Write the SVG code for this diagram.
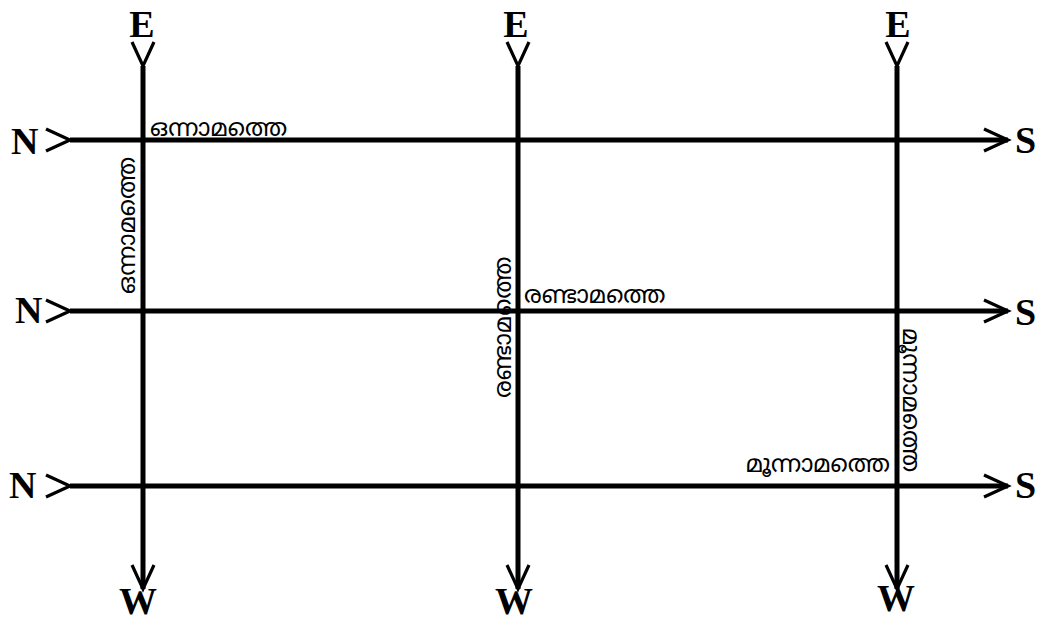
<svg xmlns="http://www.w3.org/2000/svg" width="1039" height="622" viewBox="0 0 1039 622">
<defs>
<marker id="chev" markerUnits="userSpaceOnUse" markerWidth="32" markerHeight="32" refX="25" refY="13" orient="auto" viewBox="0 0 32 32">
<path d="M1,2 L25,13 L1,24" fill="none" stroke="#000" stroke-width="3.2"/>
</marker>
</defs>
<style>
.ln{stroke:#000;stroke-width:5;fill:none;marker-start:url(#chev);marker-end:url(#chev)}
.lbl{font-family:"Liberation Serif","Times New Roman",serif;font-weight:bold;font-size:38px;fill:#000}
.ml{font-family:"Noto Sans Malayalam","Noto Sans",sans-serif;font-size:24px;fill:#000}
</style>
<rect width="1039" height="622" fill="#fff"/>
<g id="connectors">
<line class="ln" x1="70" y1="140" x2="1008" y2="140"/>
<line class="ln" x1="70" y1="311" x2="1008" y2="311"/>
<line class="ln" x1="70" y1="486" x2="1008" y2="486"/>
<line class="ln" x1="143" y1="66" x2="143" y2="589"/>
<line class="ln" x1="518" y1="66" x2="518" y2="589"/>
<line class="ln" x1="897" y1="66" x2="897" y2="589"/>
</g>
<g id="labels-E">
<text class="lbl" x="142" y="37" text-anchor="middle">E</text>
<text class="lbl" x="516" y="37" text-anchor="middle">E</text>
<text class="lbl" x="898" y="37" text-anchor="middle">E</text>
</g>
<g id="labels-W">
<text class="lbl" x="138" y="614" text-anchor="middle">W</text>
<text class="lbl" x="514" y="614" text-anchor="middle">W</text>
<text class="lbl" x="896" y="611" text-anchor="middle">W</text>
</g>
<g id="labels-N">
<text class="lbl" x="11" y="154">N</text>
<text class="lbl" x="15" y="323">N</text>
<text class="lbl" x="9" y="498">N</text>
</g>
<g id="labels-S">
<text class="lbl" x="1015" y="153">S</text>
<text class="lbl" x="1015" y="325">S</text>
<text class="lbl" x="1015" y="498">S</text>
</g>
<g id="text-1">
<text class="ml" x="150" y="136">ഒന്നാമത്തെ</text>
<text class="ml" transform="translate(135,294) rotate(-90)">ഒന്നാമത്തെ</text>
</g>
<g id="text-2">
<text class="ml" x="524" y="303">രണ്ടാമത്തെ</text>
<text class="ml" transform="translate(511,398) rotate(-90)">രണ്ടാമത്തെ</text>
</g>
<g id="text-3">
<text class="ml" x="890" y="472" text-anchor="end">മൂന്നാമത്തെ</text>
<text class="ml" transform="translate(903,328) rotate(90)">മൂന്നാമത്തെ</text>
</g>
</svg>
